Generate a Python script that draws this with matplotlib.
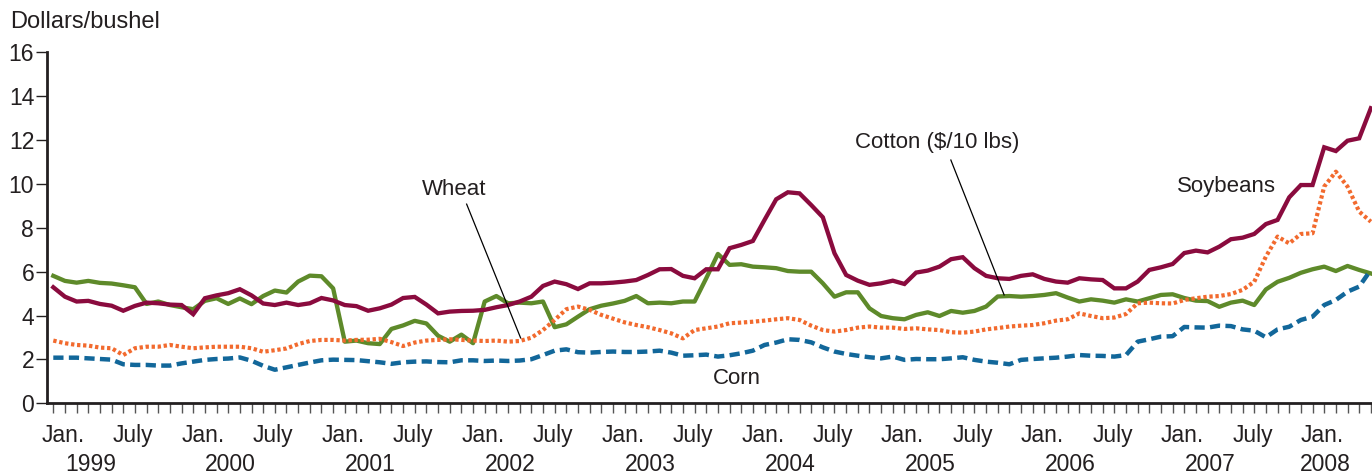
import matplotlib
matplotlib.use("Agg")
import matplotlib.pyplot as plt
import matplotlib.transforms as mtransforms
import numpy as np

plt.rcParams['font.family'] = ['Liberation Sans', 'DejaVu Sans']

# Monthly prices, Jan. 1999 - June 2008
soybeans = [5.29, 4.86, 4.64, 4.67, 4.53, 4.45, 4.22, 4.44, 4.59, 4.56, 4.50, 4.48,
            4.06, 4.79, 4.92, 5.02, 5.20, 4.92, 4.55, 4.48, 4.59, 4.48, 4.56, 4.80,
            4.69, 4.48, 4.43, 4.22, 4.33, 4.50, 4.80, 4.85, 4.50, 4.10, 4.18, 4.21,
            4.22, 4.26, 4.38, 4.48, 4.64, 4.86, 5.35, 5.55, 5.43, 5.21, 5.47, 5.47,
            5.50, 5.55, 5.62, 5.85, 6.11, 6.12, 5.81, 5.70, 6.11, 6.11, 7.07, 7.22,
            7.40, 8.36, 9.30, 9.62, 9.57, 9.04, 8.48, 6.84, 5.85, 5.59, 5.40, 5.47,
            5.59, 5.44, 5.96, 6.05, 6.23, 6.57, 6.66, 6.16, 5.81, 5.70, 5.67, 5.81,
            5.88, 5.67, 5.55, 5.50, 5.70, 5.65, 5.62, 5.24, 5.24, 5.55, 6.08, 6.20,
            6.35, 6.85, 6.96, 6.88, 7.14, 7.48, 7.55, 7.72, 8.17, 8.36, 9.39, 9.95,
            9.95, 11.67, 11.50, 11.97, 12.08, 13.45]

cotton = [5.81, 5.58, 5.50, 5.58, 5.49, 5.46, 5.38, 5.29, 4.53, 4.64, 4.48, 4.38,
          4.29, 4.67, 4.79, 4.53, 4.78, 4.52, 4.89, 5.14, 5.05, 5.55, 5.82, 5.79,
          5.24, 2.81, 2.86, 2.74, 2.70, 3.39, 3.55, 3.76, 3.64, 3.08, 2.81, 3.13,
          2.74, 4.64, 4.89, 4.56, 4.59, 4.56, 4.64, 3.47, 3.60, 3.95, 4.29, 4.45,
          4.55, 4.67, 4.89, 4.56, 4.59, 4.56, 4.64, 4.64, 5.70, 6.81, 6.31, 6.34,
          6.23, 6.20, 6.16, 6.03, 6.00, 6.00, 5.47, 4.86, 5.06, 5.06, 4.33, 3.98,
          3.88, 3.83, 4.03, 4.15, 3.98, 4.21, 4.13, 4.21, 4.41, 4.87, 4.89, 4.86,
          4.89, 4.94, 5.02, 4.82, 4.64, 4.74, 4.68, 4.59, 4.74, 4.64, 4.79, 4.94,
          4.97, 4.80, 4.68, 4.66, 4.40, 4.59, 4.68, 4.48, 5.19, 5.54, 5.72, 5.95,
          6.11, 6.23, 6.03, 6.26, 6.08, 5.92]

wheat = [2.86, 2.74, 2.66, 2.63, 2.54, 2.51, 2.20, 2.51, 2.58, 2.58, 2.66, 2.58,
         2.51, 2.55, 2.58, 2.58, 2.58, 2.51, 2.35, 2.42, 2.50, 2.70, 2.84, 2.89,
         2.89, 2.86, 2.89, 2.90, 2.94, 2.79, 2.61, 2.77, 2.86, 2.89, 2.92, 2.89,
         2.86, 2.84, 2.86, 2.81, 2.84, 2.99, 3.34, 3.80, 4.29, 4.41, 4.26, 4.03,
         3.86, 3.69, 3.57, 3.47, 3.34, 3.19, 2.96, 3.34, 3.42, 3.50, 3.65, 3.68,
         3.72, 3.77, 3.83, 3.88, 3.80, 3.54, 3.34, 3.27, 3.34, 3.45, 3.50, 3.45,
         3.45, 3.39, 3.42, 3.37, 3.34, 3.24, 3.22, 3.27, 3.37, 3.43, 3.50, 3.54,
         3.57, 3.65, 3.77, 3.83, 4.10, 3.98, 3.88, 3.91, 4.07, 4.56, 4.59, 4.56,
         4.55, 4.71, 4.79, 4.86, 4.89, 4.98, 5.17, 5.54, 6.69, 7.60, 7.29, 7.72,
         7.75, 9.88, 10.56, 9.88, 8.74, 8.28]

corn = [2.08, 2.08, 2.08, 2.05, 2.02, 1.99, 1.78, 1.75, 1.75, 1.72, 1.72, 1.82,
        1.90, 1.98, 2.02, 2.04, 2.09, 1.94, 1.71, 1.53, 1.64, 1.75, 1.86, 1.96,
        1.99, 1.98, 1.97, 1.92, 1.87, 1.80, 1.87, 1.90, 1.91, 1.88, 1.87, 1.96,
        1.96, 1.93, 1.95, 1.93, 1.95, 2.01, 2.20, 2.40, 2.46, 2.33, 2.31, 2.34,
        2.36, 2.34, 2.34, 2.36, 2.40, 2.31, 2.17, 2.19, 2.22, 2.13, 2.19, 2.28,
        2.40, 2.66, 2.77, 2.92, 2.89, 2.78, 2.55, 2.36, 2.25, 2.17, 2.10, 2.05,
        2.13, 1.98, 2.02, 2.01, 2.01, 2.05, 2.10, 1.98, 1.90, 1.85, 1.78, 1.98,
        2.02, 2.05, 2.08, 2.13, 2.20, 2.17, 2.16, 2.13, 2.20, 2.81, 2.92, 3.04,
        3.06, 3.48, 3.46, 3.45, 3.54, 3.52, 3.37, 3.31, 3.01, 3.37, 3.49, 3.80,
        3.95, 4.48, 4.71, 5.09, 5.32, 6.08]

years = ['1999', '2000', '2001', '2002', '2003', '2004', '2005', '2006', '2007', '2008']
month_labels = ['Jan.', 'July']
y_ticks = [0, 2, 4, 6, 8, 10, 12, 14, 16]

DARK = '#231F20'
n = len(soybeans)
x = np.arange(n)

fig = plt.figure(figsize=(13.72, 4.76), dpi=100)
ax = fig.add_axes([0.034, 0.1527, 0.966, 0.7374])

ax.plot(x, soybeans, color='#8A0B3E', lw=3.1, solid_joinstyle='miter', zorder=4)
ax.plot(x, cotton, color='#5E8A2A', lw=3.1, zorder=3)
ax.plot(x, wheat, color='#F26A2E', lw=3.0, dashes=(0.8, 0.65), zorder=3)
ax.plot(x, corn, color='#12679A', lw=3.2, dashes=(2.3, 1.2), zorder=3)

ax.set_xlim(-0.57, n - 0.9)
ax.set_ylim(0, 16)

for s in ['top', 'right']:
    ax.spines[s].set_visible(False)
for s in ['left', 'bottom']:
    ax.spines[s].set_linewidth(2.0)
    ax.spines[s].set_color(DARK)

ax.set_yticks(y_ticks)
ax.set_yticklabels([str(v) for v in y_ticks], fontsize=16.5, color=DARK)
ax.tick_params(axis='y', direction='out', length=8, width=1.0, color=DARK, pad=1)
ax.set_xticks(x)
ax.set_xticklabels([])
ax.tick_params(axis='x', direction='out', length=7, width=1.0, color='#555555')

trans = mtransforms.blended_transform_factory(ax.transData, ax.transAxes)
for k, yr in enumerate(years):
    jan = 12 * k
    ax.text(jan + 0.85, -0.1094, month_labels[0], transform=trans, ha='center',
            va='baseline', fontsize=16.5, color=DARK)
    jul = jan + 6
    if jul < n:
        ax.text(jul + 0.85, -0.1094, month_labels[1], transform=trans, ha='center',
                va='baseline', fontsize=16.5, color=DARK)
        ypos = jan + 3.2
    else:
        ypos = jan + 1.1
    ax.text(ypos, -0.192, yr, transform=trans, ha='center', va='baseline',
            fontsize=16.5, color=DARK)

fig.text(10 / 1372, 1 - 22 / 476, 'Dollars/bushel', fontsize=17, color=DARK,
         ha='left', va='center')

ax.text(34.38, 9.74, 'Wheat', fontsize=16, color=DARK, ha='center', va='center')
ax.plot([35.45, 40.08], [9.08, 2.98], color='black', lw=0.9, zorder=5)
ax.text(75.85, 11.91, 'Cotton ($/10 lbs)', fontsize=16, color=DARK, ha='center', va='center')
ax.plot([76.98, 81.55], [11.09, 4.94], color='black', lw=0.9, zorder=5)
ax.text(100.66, 9.90, 'Soybeans', fontsize=16, color=DARK, ha='center', va='center')
ax.text(58.67, 1.15, 'Corn', fontsize=16, color=DARK, ha='center', va='center')

fig.savefig('out.png', dpi=100)
